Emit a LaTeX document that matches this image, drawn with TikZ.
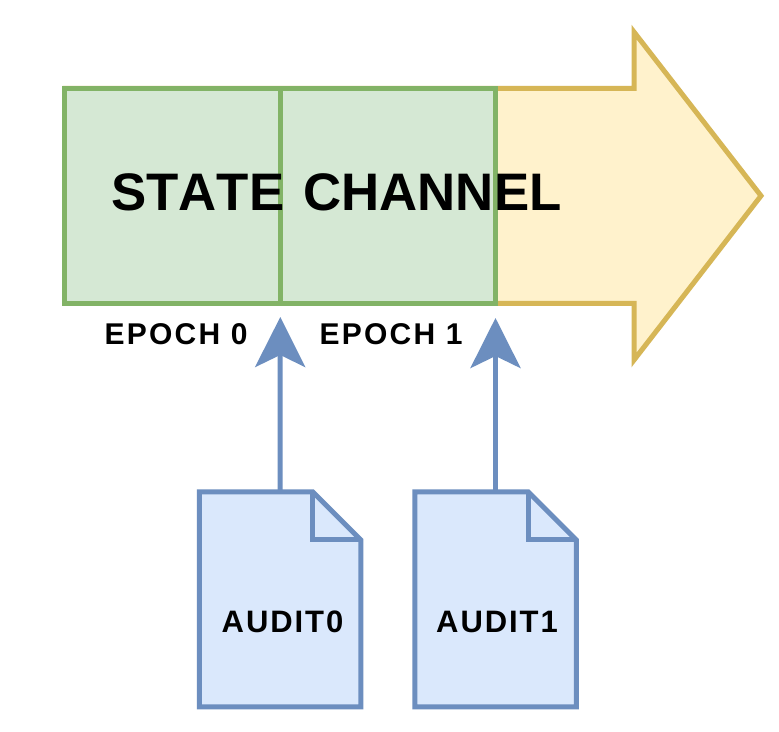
\documentclass[tikz,border=0pt]{standalone}
\usepackage{fontspec}
\setmainfont{Liberation Sans}
\newfontfamily\titlefont[Kerning=Off,WordSpace=1.3]{Liberation Sans}
\newfontfamily\epochfont[LetterSpace=7.5]{Liberation Sans}
\newfontfamily\auditfont[LetterSpace=6.2]{Liberation Sans}
\usetikzlibrary{arrows.meta,calc}
\definecolor{gfill}{HTML}{D5E8D4}\definecolor{gline}{HTML}{82B366}
\definecolor{yfill}{HTML}{FFF2CC}\definecolor{yline}{HTML}{D6B656}
\definecolor{bfill}{HTML}{DAE8FC}\definecolor{bline}{HTML}{6C8EBF}
\tikzset{
  x=1bp,y=-1bp,
  epochbox/.style={draw=gline,fill=gfill,line width=5bp,inner sep=0pt,outer sep=0pt,minimum height=215.3bp},
  docframe/.style={inner sep=0pt,outer sep=0pt,minimum width=161.5bp,minimum height=215bp},
  docline/.style={draw=bline,fill=bfill,line width=5bp,miter limit=10},
  foldline/.style={draw=bline,line width=5bp,miter limit=10},
  link/.style={draw=bline,line width=5bp,-{Stealth[length=50bp,width=50bp,inset=12bp]}},
  bigarrow/.style={draw=yline,fill=yfill,line width=5bp,miter limit=10},
  titletext/.style={font=\titlefont\fontsize{52.8bp}{60bp}\selectfont\bfseries,inner sep=0pt,text=black},
  epochtext/.style={font=\epochfont\fontsize{30bp}{34bp}\selectfont\bfseries,inner sep=0pt,text=black},
  audittext/.style={font=\auditfont\fontsize{31bp}{34bp}\selectfont\bfseries,inner sep=0pt,text=black},
}
\begin{document}
\begin{tikzpicture}
\useasboundingbox (0,0) rectangle (779,732);
\fill[white] (0,0) rectangle (779,732);
% big arrow
\path[bigarrow] (65,88.3) -- (634,88.3) -- (634,32) -- (761,195.8) -- (634,360) -- (634,303.3) -- (65,303.3) -- cycle;
% epochs
\node[epochbox,minimum width=215bp] (e0) at (172.5,195.8) {};
\node[epochbox,minimum width=215.7bp] (e1) at (387.85,195.8) {};
\node[titletext,anchor=base] (title) at (336.5,210) {STATE CHANNEL};
\node[epochtext,anchor=base] (l0) at (176,344) {EPOCH 0};
\node[epochtext,anchor=base] (l1) at (391,344) {EPOCH 1};
% documents
\node[docframe] (d0) at (280,599.3) {};
\node[docframe] (d1) at (495.5,599.3) {};
\foreach \d in {d0,d1}{
  \path[docline] (\d.north west) -- ($(\d.north east)+(-48,0)$) -- ($(\d.north east)+(0,48)$) -- (\d.south east) -- (\d.south west) -- cycle;
  \path[foldline] ($(\d.north east)+(-48,0)$) -- ($(\d.north east)+(-48,48)$) -- ($(\d.north east)+(0,48)$);
}
\node[audittext,anchor=base] (a0) at (282.5,632) {AUDIT0};
\node[audittext,anchor=base] (a1) at (497,632) {AUDIT1};
% connectors
\coordinate (t0) at (280.3,317);
\coordinate (t1) at (495.5,318);
\draw[link] (d0.north) -- (t0);
\draw[link] (d1.north) -- (t1);
\end{tikzpicture}
\end{document}
